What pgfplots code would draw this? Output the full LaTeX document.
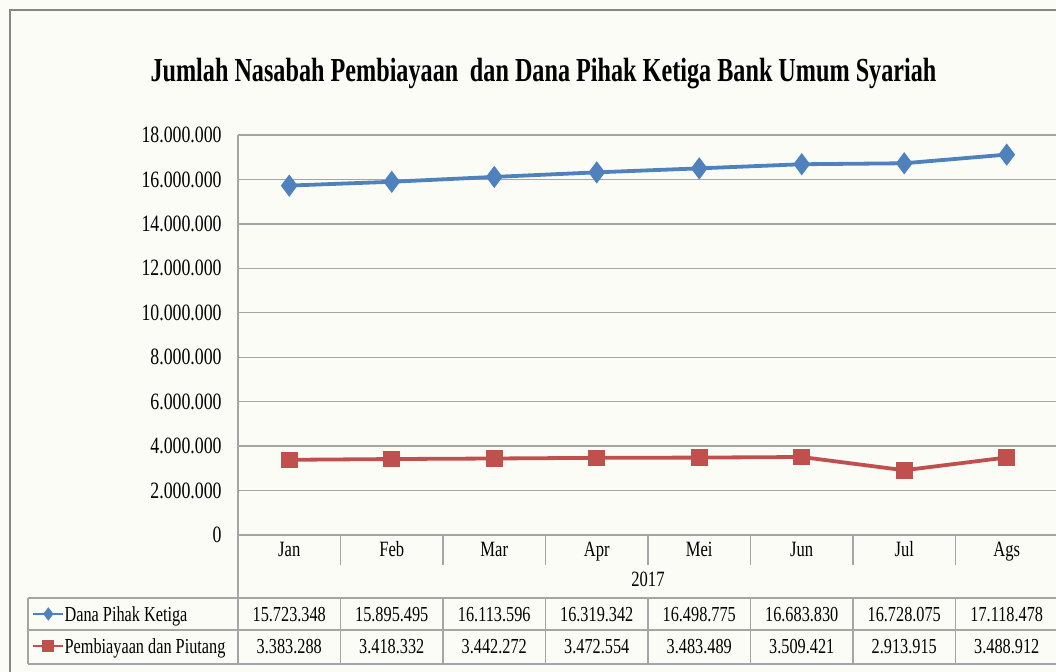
\documentclass[border=0pt]{standalone}
\usepackage{fontspec}
\setmainfont{Liberation Serif}[FakeStretch=0.76]
\newfontfamily\titlefont{Liberation Serif}[FakeStretch=0.72]
\usepackage{pgfplots}
\pgfplotsset{compat=1.18}
\definecolor{cblue}{RGB}{79,129,189}
\definecolor{cred}{RGB}{192,80,77}
\definecolor{bgc}{RGB}{252,252,247}
\definecolor{gridc}{RGB}{165,165,165}
\definecolor{framec}{RGB}{134,134,134}
\begin{document}
\begin{tikzpicture}
\fill[bgc] (0pt,0pt) rectangle (528pt,-336pt);
\useasboundingbox (0pt,0pt) rectangle (528pt,-336pt);
% outer frame
\draw[framec, line width=1pt] (4.75pt,-337pt) -- (4.75pt,-5pt) -- (529pt,-5pt);
% title
\node[font=\titlefont\fontsize{16.8}{18}\selectfont\bfseries, anchor=base, inner sep=0pt] at (271.75pt,-41pt)
  {Jumlah Nasabah Pembiayaan\, dan Dana Pihak Ketiga Bank Umum Syariah};
\begin{axis}[
  at={(119pt,-267.5pt)}, anchor=south west,
  width=410pt, height=200pt, scale only axis,
  xmin=-0.5, xmax=7.5, ymin=0, ymax=18000000,
  scaled y ticks=false,
  axis x line*=bottom, axis y line*=left,
  axis line style={gridc, line width=0.7pt},
  xtick={0,1,2,3,4,5,6,7},
  xticklabels={Jan,Feb,Mar,Apr,Mei,Jun,Jul,Ags},
  ytick={0,2000000,4000000,6000000,8000000,10000000,12000000,14000000,16000000,18000000},
  yticklabels={0,2.000.000,4.000.000,6.000.000,8.000.000,10.000.000,12.000.000,14.000.000,16.000.000,18.000.000},
  major tick length=0pt,
  ymajorgrids,
  major grid style={gridc, line width=0.7pt},
  yticklabel style={font=\fontsize{11.7}{12}\selectfont, anchor=east, inner sep=0pt, xshift=-8pt},
  xticklabel style={font=\fontsize{10.9}{12}\selectfont, anchor=base, inner sep=0pt, yshift=-11pt},
  xlabel={2017},
  xlabel style={font=\fontsize{10.9}{12}\selectfont, at={(axis description cs:0.5,0)}, anchor=base, inner sep=0pt, yshift=-26pt},
  legend style={at={(axis description cs:-0.2512,-0.1575)}, anchor=north west, draw=none, fill=none,
    inner sep=0pt, outer sep=0pt, row sep=0pt,
    font=\fontsize{10.7}{12}\selectfont,
    nodes={inner sep=0pt, text height=11.6pt, text depth=4.4pt}},
  legend cell align=left,
  legend image code/.code={%
    \draw[#1, line width=1.3pt, mark size=2.3pt, mark repeat=2, mark phase=2]
      plot coordinates {(0pt,0pt) (7.5pt,0pt) (15pt,0pt)};},
]
\addplot[cblue, line width=1.9pt, mark=diamond*, mark size=4pt, mark options={solid}]
  coordinates {(0,15723348) (1,15895495) (2,16113596) (3,16319342) (4,16498775) (5,16683830) (6,16728075) (7,17118478)};
\addlegendentry{Dana Pihak Ketiga}
\addplot[cred, line width=1.9pt, mark=square*, mark size=3.2pt, mark options={solid}]
  coordinates {(0,3383288) (1,3418332) (2,3442272) (3,3472554) (4,3483489) (5,3509421) (6,2913915) (7,3488912)};
\addlegendentry{Pembiayaan dan Piutang}
\end{axis}
% category separators and data table grid
\begin{scope}[gridc, line width=0.7pt]
  \foreach \k in {1,...,8} {
    \draw (119pt+51.25pt*\k,-267.5pt) -- ++(0,-15pt);
    \draw (119pt+51.25pt*\k,-299pt) -- (119pt+51.25pt*\k,-332pt);
  }
  \draw (119pt,-267.5pt) -- (119pt,-332pt);
  \draw (14pt,-299pt) -- (14pt,-332pt);
  \draw (14pt,-299pt) -- (529pt,-299pt);
  \draw (14pt,-315pt) -- (529pt,-315pt);
  \draw (14pt,-332pt) -- (529pt,-332pt);
\end{scope}
\begin{scope}[font=\fontsize{10.7}{12}\selectfont]
  \foreach \v [count=\i from 0] in {15.723.348,15.895.495,16.113.596,16.319.342,16.498.775,16.683.830,16.728.075,17.118.478}
    \node[anchor=base, inner sep=0pt] at (144.625pt+51.25pt*\i,-310.6pt) {\v};
  \foreach \v [count=\i from 0] in {3.383.288,3.418.332,3.442.272,3.472.554,3.483.489,3.509.421,2.913.915,3.488.912}
    \node[anchor=base, inner sep=0pt] at (144.625pt+51.25pt*\i,-327pt) {\v};
\end{scope}
\end{tikzpicture}
\end{document}
